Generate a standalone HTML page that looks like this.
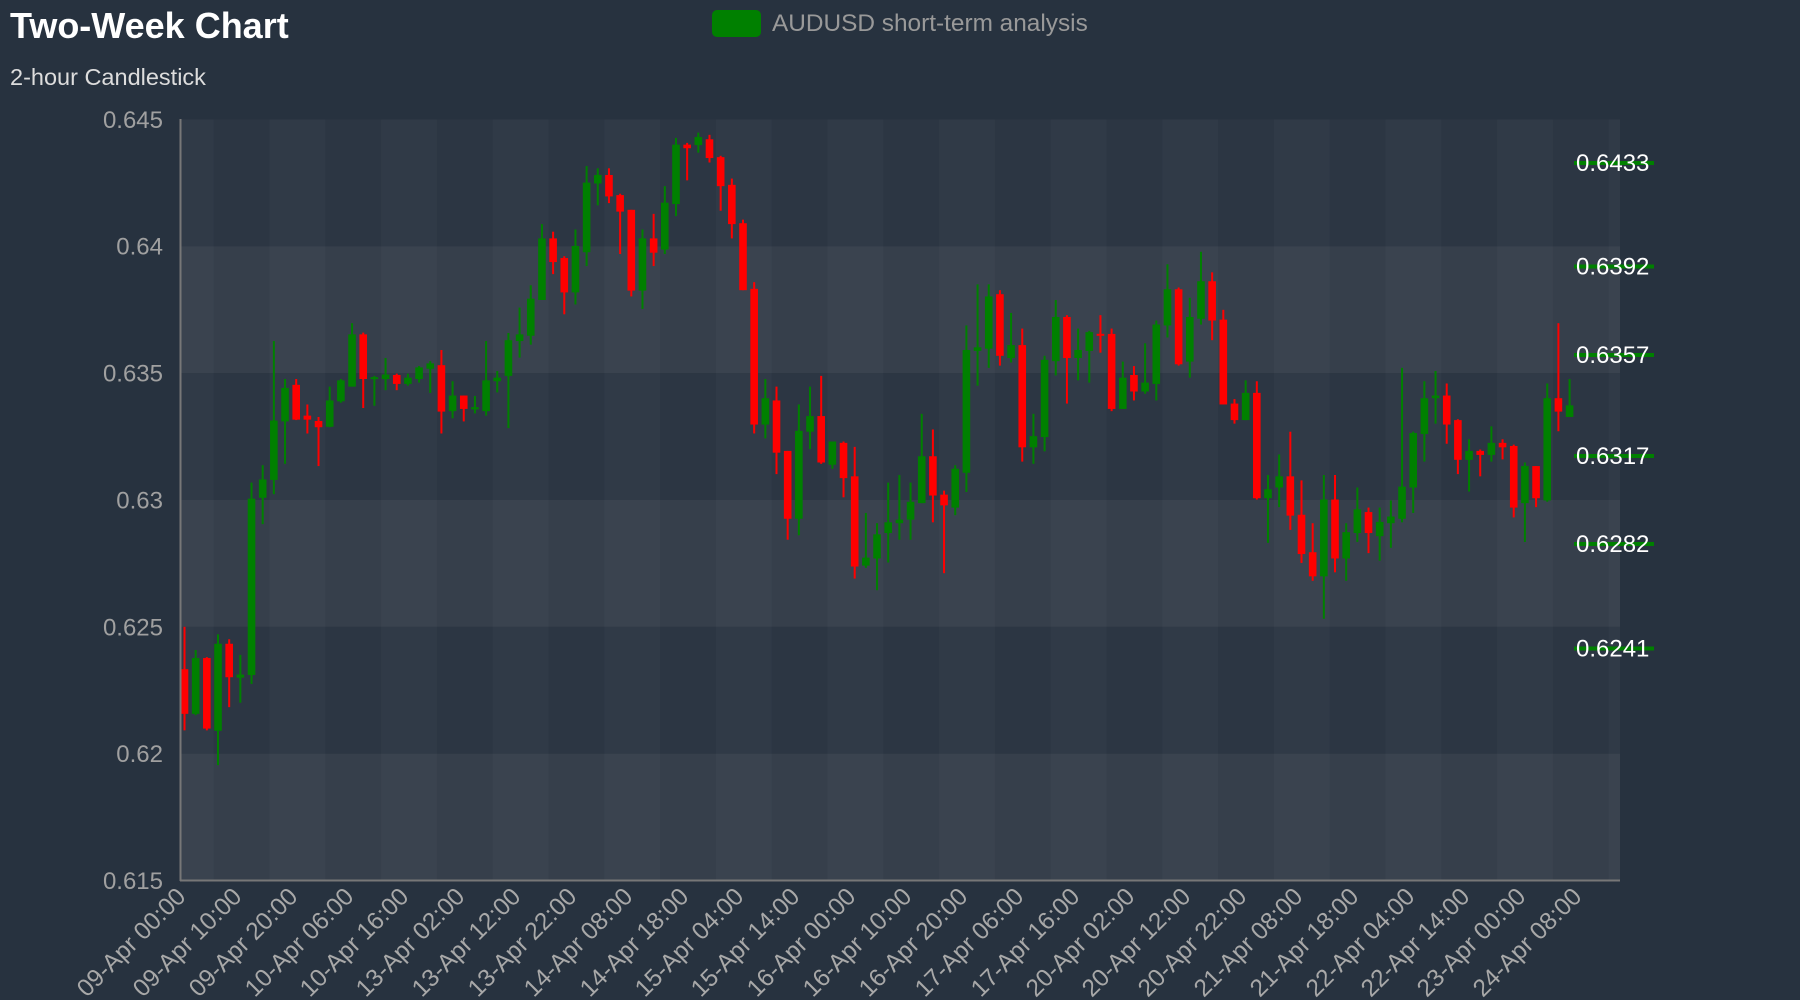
<!DOCTYPE html>
<html><head><meta charset="utf-8"><style>
html,body{margin:0;padding:0;background:#27323f;width:1800px;height:1000px;overflow:hidden}
svg{display:block}
text{font-family:"Liberation Sans",Arial,sans-serif}
</style></head><body>
<svg id="c" width="1800" height="1000" viewBox="0 0 1800 1000" xmlns="http://www.w3.org/2000/svg">
<rect x="0" y="0" width="1800" height="1000" fill="#27323f"/>
<g id="bands">
<rect x="180" y="119.4" width="1440" height="126.9" fill="#2c3643"/>
<rect x="180" y="246.3" width="1440" height="126.9" fill="#363f4b"/>
<rect x="180" y="373.1" width="1440" height="126.9" fill="#2c3643"/>
<rect x="180" y="500" width="1440" height="126.9" fill="#363f4b"/>
<rect x="180" y="626.9" width="1440" height="126.9" fill="#2c3643"/>
<rect x="180" y="753.7" width="1440" height="126.9" fill="#363f4b"/>
</g>
<g id="stripes"></g>
<g id="candles"></g>
<line x1="180.5" y1="119" x2="180.5" y2="881" stroke="#777" stroke-width="2"/>
<line x1="180" y1="880.5" x2="1620" y2="880.5" stroke="#777" stroke-width="2"/>
<text x="10" y="38" font-size="36" font-weight="bold" fill="#ffffff">Two-Week Chart</text>
<text x="10" y="85" font-size="23.5" fill="#dddddd">2-hour Candlestick</text>
<rect x="712" y="10" width="49" height="27" rx="5" fill="#008000"/>
<text x="772" y="31" font-size="24.4" fill="#999999">AUDUSD short-term analysis</text>
<g font-size="24" fill="#a0a0a0" text-anchor="end">
<text x="163" y="127.8">0.645</text>
<text x="163" y="254.7">0.64</text>
<text x="163" y="381.5">0.635</text>
<text x="163" y="508.4">0.63</text>
<text x="163" y="635.3">0.625</text>
<text x="163" y="762.1">0.62</text>
<text x="163" y="889">0.615</text>
</g>
<g stroke="#008000" stroke-width="4">
<line x1="1574" y1="163" x2="1654" y2="163"/>
<line x1="1574" y1="266.5" x2="1654" y2="266.5"/>
<line x1="1574" y1="355" x2="1654" y2="355"/>
<line x1="1574" y1="456" x2="1654" y2="456"/>
<line x1="1574" y1="544" x2="1654" y2="544"/>
<line x1="1574" y1="648.5" x2="1654" y2="648.5"/>
</g>
<g font-size="24" fill="#ffffff">
<text x="1576" y="171">0.6433</text>
<text x="1576" y="274.5">0.6392</text>
<text x="1576" y="363">0.6357</text>
<text x="1576" y="464">0.6317</text>
<text x="1576" y="552">0.6282</text>
<text x="1576" y="656.5">0.6241</text>
</g>
<g font-size="24.5" fill="#a8a8a8" text-anchor="end">
<text transform="translate(187,898) rotate(-45)">09-Apr 00:00</text>
<text transform="translate(243,898) rotate(-45)">09-Apr 10:00</text>
<text transform="translate(299,898) rotate(-45)">09-Apr 20:00</text>
<text transform="translate(355,898) rotate(-45)">10-Apr 06:00</text>
<text transform="translate(410,898) rotate(-45)">10-Apr 16:00</text>
<text transform="translate(466,898) rotate(-45)">13-Apr 02:00</text>
<text transform="translate(522,898) rotate(-45)">13-Apr 12:00</text>
<text transform="translate(578,898) rotate(-45)">13-Apr 22:00</text>
<text transform="translate(634,898) rotate(-45)">14-Apr 08:00</text>
<text transform="translate(690,898) rotate(-45)">14-Apr 18:00</text>
<text transform="translate(745,898) rotate(-45)">15-Apr 04:00</text>
<text transform="translate(801,898) rotate(-45)">15-Apr 14:00</text>
<text transform="translate(857,898) rotate(-45)">16-Apr 00:00</text>
<text transform="translate(913,898) rotate(-45)">16-Apr 10:00</text>
<text transform="translate(969,898) rotate(-45)">16-Apr 20:00</text>
<text transform="translate(1025,898) rotate(-45)">17-Apr 06:00</text>
<text transform="translate(1081,898) rotate(-45)">17-Apr 16:00</text>
<text transform="translate(1136,898) rotate(-45)">20-Apr 02:00</text>
<text transform="translate(1192,898) rotate(-45)">20-Apr 12:00</text>
<text transform="translate(1248,898) rotate(-45)">20-Apr 22:00</text>
<text transform="translate(1304,898) rotate(-45)">21-Apr 08:00</text>
<text transform="translate(1360,898) rotate(-45)">21-Apr 18:00</text>
<text transform="translate(1416,898) rotate(-45)">22-Apr 04:00</text>
<text transform="translate(1471,898) rotate(-45)">22-Apr 14:00</text>
<text transform="translate(1527,898) rotate(-45)">23-Apr 00:00</text>
<text transform="translate(1583,898) rotate(-45)">24-Apr 08:00</text>
</g>
</svg>
<script>
(function(){
var NS="http://www.w3.org/2000/svg";
function el(p,t,a){var e=document.createElementNS(NS,t);for(var k in a)e.setAttribute(k,a[k]);p.appendChild(e);return e;}
var st=document.getElementById('stripes');
el(st,'rect',{x:180,y:119.4,width:33.7,height:761,fill:'rgba(255,255,255,0.025)'});
for(var k=0;k<26;k+=2){var x0=269.5+55.8*k;if(x0>=1620)break;el(st,'rect',{x:x0,y:119.4,width:Math.min(55.8,1620-x0),height:761,fill:'rgba(255,255,255,0.025)'});}
var R='r',G='g';
var d=[
[R,1180,1412,1275,1375],[G,1232,1378,1250,1375],[R,1248,1412,1250,1408],[G,1197,1490,1218,1413],[R,1208,1360,1218,1293],
[G,1243,1350,1287,1294],[G,857,1308,893,1288],[G,818,950,850,891],[G,540,883,718,851],[G,625,815,645,720],
[R,625,717,638,716],[R,682,747,707,716],[R,710,820,719,733],[G,642,733,673,732],[G,625,678,628,675],
[G,500,642,525,642],[R,521,690,525,625],[G,618,685,621,625],[G,578,650,615,625],[R,613,650,616,636],
[G,613,640,622,636],[G,596,633,599,625],[G,585,656,590,602],[R,560,747,594,698],[G,630,713,662,697],
[R,662,720,662,692],[G,663,702,688,693],[G,540,707,628,697],[G,607,655,622,630],[G,522,735,538,618],
[G,465,577,525,540],[G,415,548,445,528],[G,278,448,310,448],[R,295,390,310,363],[R,350,480,354,431],
[G,290,458,327,431],[G,148,372,185,341],[G,153,236,168,187],[R,153,231,168,216],[R,210,345,213,250],
[R,246,440,246,427],[G,290,468,310,427],[R,255,372,310,342],[G,193,345,230,335],[G,85,260,100,233],
[R,96,180,100,108],[G,73,118,83,101],[R,78,140,88,130],[R,125,248,128,193],[R,176,310,190,278],
[R,268,426,276,426],[R,408,747,423,727],[G,625,758,668,727],
[R,642,838,673,790],[R,786,985,786,938],[G,682,975,741,938],[G,642,782,708,743],[R,618,815,708,812],
[G,765,826,765,817],[R,765,890,768,847],[R,777,1072,843,1045],[G,925,1048,1025,1043],[G,948,1098,973,1027],
[G,857,1036,946,970],[G,840,985,940,948],[G,857,985,900,940],[G,703,903,798,903],[R,738,946,798,886],
[R,875,1060,884,908],[G,818,930,826,913],[G,505,878,560,835],[G,413,640,554,562],[G,413,600,440,557],
[R,426,595,435,573],[G,477,588,549,578],[R,512,810,549,778],[G,703,815,753,778],[G,573,787,582,755],
[G,448,617,486,585],[R,482,680,486,578],[G,512,628,560,578],[G,517,633,520,562],[R,482,566,524,528],
[R,512,697,524,692],[G,586,692,622,692],[R,596,673,616,653],[G,545,658,633,653],[G,494,673,503,636],
[G,368,532,424,505],[R,420,595,424,592],
[G,443,622,486,586],[G,340,503,406,490],[R,386,538,406,494],[R,470,682,492,682],[R,670,725,680,717],
[G,628,717,656,717],[R,630,895,656,892],[G,840,992,872,892],[G,794,912,843,868],[R,743,963,843,931],
[R,852,1037,929,1017],[R,948,1077,1013,1067],[G,840,1162,895,1067],[R,840,1058,895,1027],[G,948,1077,968,1027],
[G,868,990,917,970],[R,913,1015,923,970],[G,913,1032,945,977],[G,897,1003,933,948],[G,600,946,866,938],
[G,743,925,746,868],[G,630,810,668,748],[G,607,725,662,668],[R,635,770,662,727],[R,715,838,717,806],
[G,760,877,786,806],[R,783,843,786,795],[G,731,810,768,795],[R,760,805,768,778],[R,772,935,775,913],
[G,812,990,820,903],[R,820,912,820,892],[G,635,900,668,897],[R,500,742,668,698],[G,625,710,684,710]
];
var g=document.getElementById('candles');
function Y(z){return z/2.24+100;}
for(var i=0;i<d.length;i++){
 var c=d[i],x=184.5+i*11.17,col=c[0]==='r'?'#ff0000':'#008000';
 var hy=Y(c[1]),ly=Y(c[2]),bt=Y(c[3]),bb=Y(c[4]);
 if(bb-bt<2){var m=(bt+bb)/2;bt=m-1;bb=m+1;}
 el(g,'rect',{x:x-1,y:hy,width:2,height:ly-hy,fill:col});
 el(g,'rect',{x:x-3.8,y:bt,width:7.6,height:bb-bt,fill:col});
}
})();
</script>
</body></html>
